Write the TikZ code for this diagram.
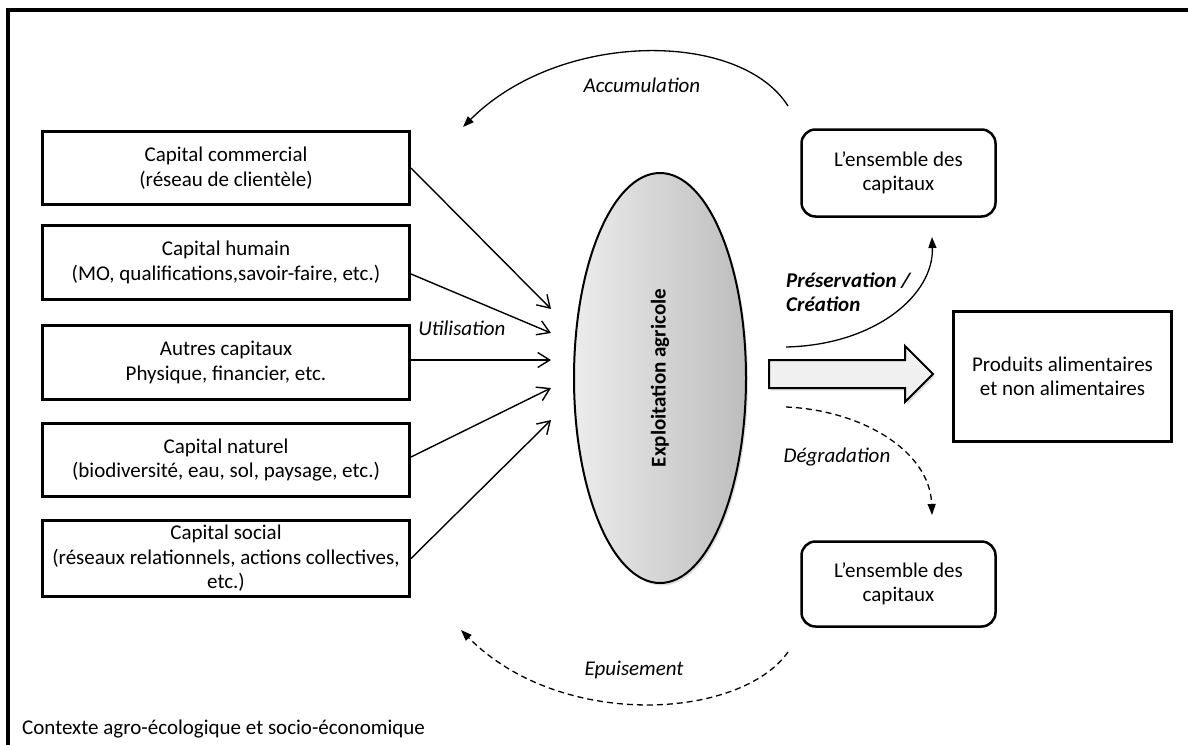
\documentclass[tikz,border=0pt]{standalone}
\usepackage{fontspec}
\setmainfont{Carlito}
\usetikzlibrary{arrows.meta,shapes.geometric,calc,shadows}
\definecolor{ellL}{HTML}{ECECEC}
\definecolor{ellR}{HTML}{BDBDBD}
\definecolor{arrF}{HTML}{F0F0F0}
\begin{document}
\begin{tikzpicture}[x=1pt,y=-1pt,
  every node/.style={font=\fontsize{21}{24.5}\selectfont},
  capbox/.style={draw, line width=3pt, minimum width=367pt, align=center, inner sep=0pt},
  roundbox/.style={draw, line width=2.5pt, rounded corners=14pt, minimum width=194pt, align=center},
  inarrow/.style={line width=1.4pt, -{Straight Barb[length=12pt,width=15pt]}},
  arcarrow/.style={line width=1.3pt, -{Triangle[length=11pt,width=8pt]}},
  dasharc/.style={arcarrow, dash pattern=on 6pt off 4pt},
  lbl/.style={font=\fontsize{21}{24.5}\selectfont\itshape},
  softshadow/.style={drop shadow={opacity=0.25, shadow xshift=2pt, shadow yshift=-2.5pt}}
]
\path[use as bounding box] (0,0) rectangle (1188,744);
\clip (0,0) rectangle (1188,744);
\draw[line width=3.5pt] (8,10) rectangle (1220,780);

% capital boxes
\node[capbox, minimum height=73pt] (b1) at (226,168) {Capital commercial\\(réseau de clientèle)};
\node[capbox, minimum height=74pt] (b2) at (226,262.5) {Capital humain\\(MO, qualifications,savoir-faire, etc.)};
\node[capbox, minimum height=74pt] (b3) at (226,362.5) {Autres capitaux\\Physique, financier, etc.};
\node[capbox, minimum height=73pt] (b4) at (226,460) {Capital naturel\\(biodiversité, eau, sol, paysage, etc.)};
\node[capbox, minimum height=76pt] (b5) at (226,558.5) {Capital social\\(réseaux relationnels, actions collectives,\\etc.)};

% central ellipse
\node[ellipse, draw, line width=2pt, minimum width=172pt, minimum height=410pt, inner sep=0pt,
      left color=ellL, right color=ellR, softshadow] (ex) at (660,378) {};
\node[rotate=90, font=\fontsize{21}{24.5}\selectfont\bfseries] (exl) at (ex.center) {Exploitation agricole};

% input arrows
\coordinate (t1) at (551,309);
\coordinate (t2) at (551,333);
\coordinate (t3) at (551,360);
\coordinate (t4) at (551,388);
\coordinate (t5) at (551,420);
\draw[inarrow] (b1.east) -- (t1);
\draw[inarrow] ($(b2.east)+(0,11.5)$) -- (t2);
\draw[inarrow] ($(b3.east)+(0,-2.5)$) -- (t3);
\draw[inarrow] ($(b4.east)+(0,-3)$) -- (t4);
\draw[inarrow] (b5.east) -- (t5);
\node[lbl] (lutil) at (462,328) {Utilisation};

% right side boxes
\node[roundbox, minimum height=87pt] (ens1) at (898.5,173) {L’ensemble des\\capitaux};
\node[roundbox, minimum height=85pt] (ens2) at (898.5,584) {L’ensemble des\\capitaux};
\node[draw, line width=3pt, minimum width=218pt, minimum height=130pt, align=center] (prod) at (1062.5,376.5) {Produits alimentaires\\et non alimentaires};

% big arrow
\draw[line width=2pt, fill=arrF, line join=miter, softshadow] (769,360) -- (905,360) -- (905,346) -- (933,374) -- (905,402) -- (905,388) -- (769,388) -- cycle;

% curved arrows
\coordinate (a1) at (788,106);
\coordinate (a2) at (463,127);
\draw[arcarrow] (a1) .. controls (740,30) and (560,30) .. (a2);
\node[lbl] (lacc) at (642,85) {Accumulation};

\coordinate (p1) at (786,347);
\coordinate (p2) at (932,237);
\draw[arcarrow] (p1) .. controls (875,345) and (934,295) .. (p2);
\node[font=\fontsize{21}{24.5}\selectfont\bfseries\itshape, anchor=west, align=left, inner sep=0pt] (lpres) at (786,292) {Préservation /\\Création};

\coordinate (d1) at (786,407);
\coordinate (d2) at (932,515);
\draw[dasharc] (d1) .. controls (860,410) and (930,450) .. (d2);
\node[lbl] (ldeg) at (837,457) {Dégradation};

\coordinate (e1) at (788,652);
\coordinate (e2) at (461,630);
\draw[dasharc] (e1) .. controls (740,720) and (560,730) .. (e2);
\node[lbl] (lepu) at (634,670) {Epuisement};

\node[anchor=west, inner sep=0pt] (ctx) at (22,729) {Contexte agro-écologique et socio-économique};
\end{tikzpicture}
\end{document}
